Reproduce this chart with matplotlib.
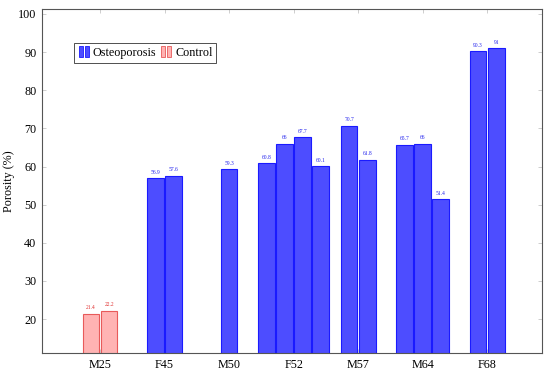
import matplotlib.pyplot as plt
from matplotlib.legend_handler import HandlerBase
from matplotlib.patches import Rectangle

plt.rcParams['font.family'] = ['Liberation Serif', 'DejaVu Serif']

# Data: porosity per specimen, grouped by donor
donors = ["M25", "F45", "M50", "F52", "M57", "M64", "F68"]
porosity = [
    [21.4, 22.2],
    [56.9, 57.6],
    [59.3],
    [60.8, 66.0, 67.7, 60.1],
    [70.7, 61.8],
    [65.7, 66.0, 51.4],
    [90.3, 91.0],
]
condition = ["Control", "Osteoporosis", "Osteoporosis", "Osteoporosis",
             "Osteoporosis", "Osteoporosis", "Osteoporosis"]
value_labels = [
    ["21.4", "22.2"],
    ["56.9", "57.6"],
    ["59.3"],
    ["60.8", "66", "67.7", "60.1"],
    ["70.7", "61.8"],
    ["65.7", "66", "51.4"],
    ["90.3", "91"],
]

styles = {
    "Osteoporosis": dict(face='#4d4dff', edge='#1a1aff', text='#2020ee'),
    "Control": dict(face='#ffb3b3', edge='#e85a5a', text='#e03030'),
}


class TwoBarHandler(HandlerBase):
    def __init__(self, face, edge):
        super().__init__()
        self.face = face
        self.edge = edge

    def create_artists(self, legend, orig_handle, xdescent, ydescent,
                       width, height, fontsize, trans):
        w = width * 0.3
        h = height * 1.05
        arts = []
        for x0 in (width * 0.1, width * 0.55):
            r = Rectangle((x0 - xdescent, -ydescent), w, h,
                          facecolor=self.face, edgecolor=self.edge,
                          linewidth=0.6, transform=trans)
            arts.append(r)
        return arts


fig = plt.figure(figsize=(5.5, 3.75), dpi=100)
ax = fig.add_axes([0.0764, 0.0587, 0.909, 0.9173])

bar_w = 0.26
step = 0.28
fs = 8.7
handles = {}
for i, (vals, labs, cond) in enumerate(zip(porosity, value_labels, condition)):
    st = styles[cond]
    n = len(vals)
    for j, (v, lab) in enumerate(zip(vals, labs)):
        x = i + (j - (n - 1) / 2) * step
        b = ax.bar(x, v, width=bar_w, color=st['face'], edgecolor=st['edge'],
                   linewidth=0.8, zorder=2)
        handles[cond] = b
        ax.text(x, v + 0.9, lab, ha='center', va='bottom', fontsize=4,
                color=st['text'])

ax.set_xlim(-0.9, 6.85)
ax.set_ylim(11.1, 101.3)
ax.set_xticks(range(len(donors)))
ax.set_xticklabels(donors, fontsize=fs)
ax.set_yticks(range(20, 101, 10))
ax.tick_params(axis='both', direction='in', length=3, width=0.5,
               color='#bbbbbb', labelsize=fs, top=True, right=True, pad=4)
ax.set_ylabel('Porosity (%)', fontsize=fs)
ax.yaxis.set_label_coords(-0.054, 0.5)
for s in ax.spines.values():
    s.set_color('#555555')
    s.set_linewidth(0.8)

leg = ax.legend([handles["Osteoporosis"], handles["Control"]],
                ["Osteoporosis", "Control"],
                handler_map={handles["Osteoporosis"]: TwoBarHandler('#4d4dff', '#1a1aff'),
                             handles["Control"]: TwoBarHandler('#ffb3b3', '#e85a5a')},
                loc='upper left', bbox_to_anchor=(0.064, 0.901), ncol=2,
                fontsize=fs, frameon=True, fancybox=False, edgecolor='black',
                handlelength=1.1, handleheight=1.0, handletextpad=0.15,
                columnspacing=0.3, borderpad=0.3, borderaxespad=0)
leg.get_frame().set_linewidth(0.6)

plt.savefig('out.png', dpi=100)
